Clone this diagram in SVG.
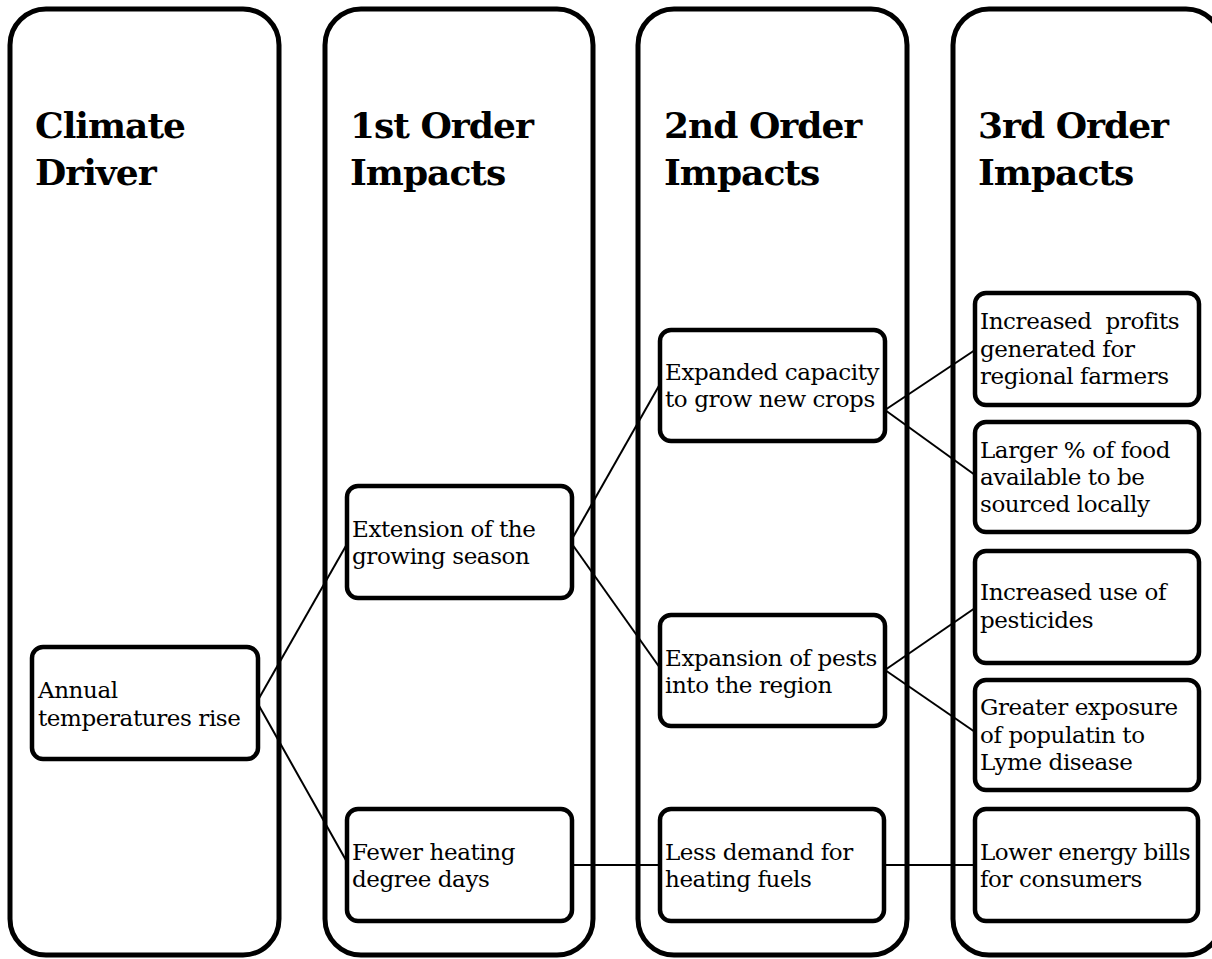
<svg xmlns="http://www.w3.org/2000/svg" width="1212" height="959" viewBox="0 0 1212 959">
<style>
.col{fill:none;stroke:#000;stroke-width:5}
.box{fill:#fff;stroke:#000;stroke-width:4.5}
.hd{font-family:"DejaVu Serif","Liberation Serif",serif;font-weight:bold;font-size:36px;letter-spacing:-1px;fill:#000}
.tx{font-family:"DejaVu Serif","Liberation Serif",serif;font-size:23px;letter-spacing:-0.4px;fill:#000;white-space:pre}
.ln{stroke:#000;stroke-width:2;fill:none}
</style>
<rect width="1212" height="959" fill="#fff"/>
<g id="col-driver"><rect class="col" x="10" y="9" width="269" height="946" rx="36"/><text class="hd" x="35" y="138">Climate</text><text class="hd" x="35" y="185">Driver</text></g>
<g id="col-first"><rect class="col" x="325" y="9" width="268" height="946" rx="36"/><text class="hd" x="350" y="138">1st Order</text><text class="hd" x="350" y="185">Impacts</text></g>
<g id="col-second"><rect class="col" x="638" y="9" width="269" height="946" rx="36"/><text class="hd" x="664" y="138">2nd Order</text><text class="hd" x="664" y="185">Impacts</text></g>
<g id="col-third"><rect class="col" x="953" y="9" width="269" height="946" rx="36"/><text class="hd" x="978" y="138">3rd Order</text><text class="hd" x="978" y="185">Impacts</text></g>
<g id="connectors">
<line class="ln" x1="258" y1="700" x2="347" y2="544"/>
<line class="ln" x1="258" y1="704" x2="347" y2="862"/>
<line class="ln" x1="572" y1="539" x2="660" y2="384"/>
<line class="ln" x1="572" y1="544" x2="660" y2="668"/>
<line class="ln" x1="885" y1="410" x2="975" y2="350"/>
<line class="ln" x1="885" y1="410" x2="975" y2="475"/>
<line class="ln" x1="885" y1="670" x2="975" y2="608"/>
<line class="ln" x1="885" y1="670" x2="975" y2="732"/>
<line class="ln" x1="572" y1="865" x2="660" y2="865"/>
<line class="ln" x1="884" y1="865" x2="974" y2="865"/>
</g>
<g id="n-annual"><rect class="box" x="32" y="647" width="226" height="112" rx="11"/><text class="tx" x="38" y="698">Annual</text><text class="tx" x="38" y="726">temperatures rise</text></g>
<g id="n-extension"><rect class="box" x="347" y="486" width="225" height="112" rx="11"/><text class="tx" x="352" y="537">Extension of the</text><text class="tx" x="352" y="564">growing season</text></g>
<g id="n-fewer"><rect class="box" x="347" y="809" width="225" height="112" rx="11"/><text class="tx" x="352" y="860">Fewer heating</text><text class="tx" x="352" y="887">degree days</text></g>
<g id="n-expanded"><rect class="box" x="660" y="330" width="225" height="111" rx="11"/><text class="tx" x="665" y="380">Expanded capacity</text><text class="tx" x="665" y="407">to grow new crops</text></g>
<g id="n-pests"><rect class="box" x="660" y="615" width="225" height="111" rx="11"/><text class="tx" x="665" y="666">Expansion of pests</text><text class="tx" x="665" y="693">into the region</text></g>
<g id="n-demand"><rect class="box" x="660" y="809" width="224" height="112" rx="11"/><text class="tx" x="665" y="860">Less demand for</text><text class="tx" x="665" y="887">heating fuels</text></g>
<g id="n-profits"><rect class="box" x="975" y="293" width="224" height="112" rx="11"/><text class="tx" x="980" y="329">Increased  profits</text><text class="tx" x="980" y="357">generated for</text><text class="tx" x="980" y="384">regional farmers</text></g>
<g id="n-local"><rect class="box" x="975" y="422" width="224" height="110" rx="11"/><text class="tx" x="980" y="458">Larger % of food</text><text class="tx" x="980" y="485">available to be</text><text class="tx" x="980" y="512">sourced locally</text></g>
<g id="n-pesticides"><rect class="box" x="975" y="551" width="224" height="112" rx="11"/><text class="tx" x="980" y="600">Increased use of</text><text class="tx" x="980" y="628">pesticides</text></g>
<g id="n-lyme"><rect class="box" x="975" y="680" width="224" height="110" rx="11"/><text class="tx" x="980" y="715">Greater exposure</text><text class="tx" x="980" y="743">of populatin to</text><text class="tx" x="980" y="770">Lyme disease</text></g>
<g id="n-bills"><rect class="box" x="975" y="809" width="223" height="112" rx="11"/><text class="tx" x="980" y="860">Lower energy bills</text><text class="tx" x="980" y="887">for consumers</text></g>
</svg>
